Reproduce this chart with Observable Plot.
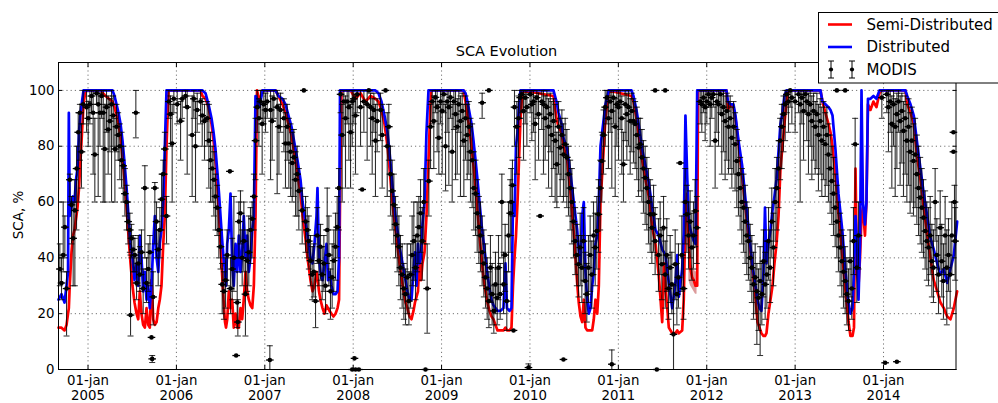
<!DOCTYPE html>
<html><head><meta charset="utf-8">
<script src="https://cdn.jsdelivr.net/npm/d3@7"></script>
<script src="https://cdn.jsdelivr.net/npm/@observablehq/plot@0.6"></script>
<style>
body{margin:0;background:#fff;font-family:"DejaVu Sans",sans-serif;}
#wrap{position:relative;width:998px;height:403px;overflow:hidden;background:#fff;}
#chart{position:absolute;left:0;top:0;}
#title{position:absolute;left:406.5px;width:200px;text-align:center;top:43px;font-size:14.5px;line-height:17px;color:#000;}
#ylab{position:absolute;left:-32px;top:206px;width:100px;text-align:center;font-size:13.5px;line-height:18px;transform:rotate(-90deg);color:#000;}
#legend{position:absolute;left:818px;top:12px;}
</style></head>
<body><div id="wrap"><div id="chart"></div><div id="title">SCA Evolution</div><div id="ylab">SCA, %</div><div id="legend"></div></div>
<script>
// ---------- data ----------
// year decimal time, Semi-Distributed, Distributed
const sim2005 = [[2004.666,15,25],[2004.700,15,27],[2004.734,14,24],[2004.757,16,30],[2004.774,20,35],[2004.783,22,92],[2004.793,30,55],[2004.813,42,58],[2004.830,48,62],[2004.847,50,60],[2004.864,54,68],[2004.881,58,72],[2004.898,65,85],[2004.915,75,92],[2004.932,85,96],[2004.949,95,100],[2004.972,100,100],[2005.141,100,100],[2005.198,98,100],[2005.277,96,100],[2005.300,94,98],[2005.322,91,95],[2005.345,88,92],[2005.368,83,88],[2005.390,76,82],[2005.413,68,74],[2005.436,58,65],[2005.458,48,55],[2005.481,38,45],[2005.503,30,40],[2005.526,24,32],[2005.549,20,38],[2005.568,18,30],[2005.586,28,48],[2005.605,20,40],[2005.624,16,28],[2005.643,15,35],[2005.662,22,25],[2005.681,16,30],[2005.699,15,22],[2005.718,32,30],[2005.738,18,45],[2005.756,16,55],[2005.776,17,40],[2005.795,22,35],[2005.812,25,45],[2005.831,30,50],[2005.851,45,60],[2005.869,55,80],[2005.888,80,100]];
const sim2006 = [[2005.911,100,100],[2006.273,100,100],[2006.295,98,100],[2006.329,97,99],[2006.363,94,95],[2006.397,88,90],[2006.420,82,85],[2006.442,75,79],[2006.465,65,70],[2006.482,55,63],[2006.499,45,55],[2006.516,35,47],[2006.533,25,40],[2006.550,17,35],[2006.561,15,30],[2006.575,18,45],[2006.593,28,50],[2006.612,22,63],[2006.631,25,38],[2006.649,15,30],[2006.669,20,45],[2006.688,15,35],[2006.706,15,48],[2006.725,22,35],[2006.744,18,42],[2006.762,25,55],[2006.782,35,40],[2006.801,28,48],[2006.819,25,35],[2006.838,23,40],[2006.858,22,50],[2006.876,30,55],[2006.895,55,98]];
const sim2007 = [[2006.912,100,97],[2006.940,96,94],[2006.974,100,100],[2007.121,100,100],[2007.155,98,98],[2007.200,95,97],[2007.234,92,95],[2007.268,88,91],[2007.302,84,87],[2007.336,77,81],[2007.370,70,75],[2007.404,63,68],[2007.427,55,60],[2007.460,47,53],[2007.483,40,48],[2007.517,32,40],[2007.540,28,38],[2007.562,30,45],[2007.585,35,55],[2007.596,33,65],[2007.613,28,40],[2007.630,25,35],[2007.653,22,32],[2007.675,20,38],[2007.698,23,45],[2007.715,22,32],[2007.732,21,35],[2007.755,20,30],[2007.777,19,27],[2007.800,20,27],[2007.823,22,28],[2007.840,25,40],[2007.851,60,100]];
const sim2008 = [[2007.868,100,100],[2007.970,100,100],[2008.026,97,100],[2008.083,99,100],[2008.139,96,100],[2008.196,98,100],[2008.252,97,100],[2008.286,96,99],[2008.320,93,96],[2008.354,88,91],[2008.388,80,85],[2008.411,72,78],[2008.433,64,70],[2008.456,56,62],[2008.479,50,55],[2008.501,44,50],[2008.524,38,44],[2008.547,33,40],[2008.569,28,36],[2008.592,24,32],[2008.614,22,28],[2008.637,19,25],[2008.660,18,25],[2008.682,21,35],[2008.699,24,42],[2008.716,26,30],[2008.733,28,45],[2008.750,40,38],[2008.767,32,40],[2008.784,38,52],[2008.807,42,60],[2008.829,55,85],[2008.852,75,100]];
const sim2009 = [[2008.880,100,100],[2009.248,100,100],[2009.271,96,99],[2009.293,91,96],[2009.316,86,92],[2009.339,80,88],[2009.361,73,82],[2009.384,65,75],[2009.406,57,68],[2009.429,48,60],[2009.452,40,52],[2009.474,33,46],[2009.497,28,40],[2009.519,24,34],[2009.542,21,29],[2009.565,19,25],[2009.587,18,23],[2009.610,16,22],[2009.633,14,21],[2009.667,14,21],[2009.700,14,22],[2009.723,15,38],[2009.740,14,22],[2009.768,14,21],[2009.791,15,22],[2009.808,30,60],[2009.825,40,55],[2009.842,48,80],[2009.859,60,85],[2009.876,75,95],[2009.893,90,100]];
const sim2010 = [[2009.915,100,100],[2010.266,98,100],[2010.300,90,96],[2010.323,87,92],[2010.357,85,88],[2010.379,80,83],[2010.421,75,79],[2010.459,63,70],[2010.496,49,60],[2010.534,31,50],[2010.552,24,43],[2010.572,19,38],[2010.591,17,55],[2010.609,25,60],[2010.628,15,35],[2010.647,14,25],[2010.666,14,20],[2010.685,14,22],[2010.704,14,30],[2010.722,18,35],[2010.741,25,45],[2010.761,20,48],[2010.779,30,60],[2010.798,60,80],[2010.817,70,85],[2010.854,90,95]];
const sim2011 = [[2010.892,100,100],[2011.149,98,100],[2011.171,96,98],[2011.205,90,93],[2011.239,82,86],[2011.270,75,79],[2011.307,68,73],[2011.344,62,67],[2011.383,51,58],[2011.420,45,50],[2011.457,34,48],[2011.496,17,43],[2011.516,38,42],[2011.533,30,41],[2011.571,15,31],[2011.609,13,22],[2011.646,13,31],[2011.666,14,41],[2011.684,13,26],[2011.722,14,36],[2011.740,25,49],[2011.759,55,91],[2011.779,63,69],[2011.797,45,53],[2011.816,36,50],[2011.835,33,48],[2011.853,32,46],[2011.873,30,45],[2011.892,30,100]];
const sim2012 = [[2011.901,100,100],[2011.997,100,100],[2012.223,100,100],[2012.240,93,96],[2012.269,95,95],[2012.302,94,95],[2012.325,90,91],[2012.359,81,82],[2012.401,69,73],[2012.438,58,61],[2012.476,47,50],[2012.514,37,38],[2012.551,26,30],[2012.574,17,25],[2012.597,15,22],[2012.619,13,21],[2012.642,12,35],[2012.659,12,58],[2012.676,13,38],[2012.698,20,45],[2012.721,25,50],[2012.744,30,57],[2012.766,38,62],[2012.789,45,68],[2012.812,55,78],[2012.834,72,88],[2012.857,80,92],[2012.879,88,98],[2012.902,96,100]];
const sim2013 = [[2012.925,100,100],[2013.287,100,100],[2013.309,96,96],[2013.343,92,95],[2013.377,88,94],[2013.400,85,93],[2013.423,80,91],[2013.456,70,79],[2013.490,56,63],[2013.536,40,49],[2013.570,28,35],[2013.604,17,24],[2013.626,12,20],[2013.649,12,22],[2013.666,15,35],[2013.683,72,55],[2013.700,35,45],[2013.717,30,25],[2013.734,40,45],[2013.751,55,100],[2013.767,58,60],[2013.790,48,52],[2013.807,60,60],[2013.824,95,97],[2013.852,93,97],[2013.886,96,98],[2013.920,94,97],[2013.954,99,100]];
const sim2014 = [[2013.977,100,100],[2014.248,100,100],[2014.268,95,98],[2014.305,92,95],[2014.342,88,91],[2014.381,76,81],[2014.418,68,72],[2014.455,58,63],[2014.494,48,55],[2014.531,40,47],[2014.568,32,43],[2014.607,28,38],[2014.644,24,34],[2014.682,22,36],[2014.720,19,31],[2014.757,18,36],[2014.795,22,41],[2014.833,28,53]];

// shaded spread around Semi-Distributed, autumn 2011: time, low, high
const band2011 = [[2011.797,32,40],[2011.816,30,38],[2011.835,29,37],[2011.853,28,36],[2011.873,27,35],[2011.890,27,35]];

// MODIS: time, value, error low, error high (no error given => point only)
const modis2005 = [[2004.681,36,30,45],[2004.700,31,25,40],[2004.719,41,35,60],[2004.738,51,40,55],[2004.757,29,12,35],[2004.794,68,60,70],[2004.813,59,45,62],[2004.832,47,30,60],[2004.851,57,30,68],[2004.870,72,50,80],[2004.889,85,60,92],[2004.908,92,75,95],[2004.926,78,65,88],[2004.945,95,88,100],[2004.983,94,85,100],[2005.002,90,80,96],[2005.021,95,88,100],[2005.040,98,92,100],[2005.058,92,70,100],[2005.077,77,60,90],[2005.096,99,95,100],[2005.115,95,62,100],[2005.134,92,80,99],[2005.153,98,90,100],[2005.172,92,60,100],[2005.190,79,60,95],[2005.209,94,85,100],[2005.228,86,70,98],[2005.247,89,78,97],[2005.266,95,60,100],[2005.285,91,80,98],[2005.304,79,60,90],[2005.322,87,78,95],[2005.341,84,75,92],[2005.360,80,68,88],[2005.379,75,65,85],[2005.398,73,60,80],[2005.417,63,55,72],[2005.436,60,50,66],[2005.454,53,45,60],[2005.473,50,42,56],[2005.481,19.5,12,41],[2005.492,47,40,52],[2005.511,43,35,48],[2005.530,41,35,47],[2005.541,92,83,100],[2005.549,31,25,40],[2005.568,38,30,48],[2005.586,34,28,44],[2005.605,42,34,50],[2005.624,29,20,36],[2005.643,65,40,73],[2005.662,31,24,40],[2005.681,36,28,45],[2005.700,42,30,48],[2005.718,11.5],[2005.726,3.8,2.5,5],[2005.737,26,16,35],[2005.756,65,45,67],[2005.775,53,40,60],[2005.794,43,30,50],[2005.813,50,40,58],[2005.832,61,50,70],[2005.850,70,55,75],[2005.869,79,70,85],[2005.888,55,45,62]];
const modis2006 = [[2005.915,96,90,100],[2005.933,91.5,80,98],[2005.952,81,60,95],[2005.971,97,92,100],[2006.009,95,88,100],[2006.047,89,75,96],[2006.065,97,90,100],[2006.103,98,94,100],[2006.122,94,70,100],[2006.178,84,62,98],[2006.197,97,90,100],[2006.216,80,60,96],[2006.235,93,85,99],[2006.273,96,88,100],[2006.292,91,80,97],[2006.318,89,75,95],[2006.348,90,80,96],[2006.367,82,65,95],[2006.386,75,60,85],[2006.405,72,60,80],[2006.424,68,55,78],[2006.442,62,50,70],[2006.461,58,48,66],[2006.480,50,40,58],[2006.499,44,36,50],[2006.518,30.5,20,38],[2006.537,28,18,35],[2006.556,32,22,40],[2006.574,41,30,50],[2006.605,71],[2006.612,29,20,40],[2006.631,36,25,47],[2006.650,40,28,62],[2006.676,5],[2006.688,24,15,35],[2006.695,17,12,25],[2006.707,53,40,60],[2006.725,56,45,64],[2006.744,40,30,50],[2006.763,46,35,60],[2006.781,27,12,40],[2006.801,39,28,50],[2006.819,42,30,55],[2006.838,50,38,58],[2006.857,54,40,60],[2006.876,62,50,70]];
const modis2007 = [[2006.895,82,68,90],[2006.914,94,85,100],[2006.933,90,80,97],[2006.951,96,90,100],[2006.970,88,70,96],[2006.989,95,88,100],[2007.008,93,85,99],[2007.027,96,90,100],[2007.057,3.4,0,8.5],[2007.065,93,68,100],[2007.083,89,75,98],[2007.102,97,90,100],[2007.140,94,63,100],[2007.160,87,70,95],[2007.178,93,85,99],[2007.216,90,78,97],[2007.234,81,65,92],[2007.253,87,75,95],[2007.272,81,65,90],[2007.291,78,62,88],[2007.310,74,60,85],[2007.329,76,62,86],[2007.348,68,55,78],[2007.366,70,55,80],[2007.385,64,50,72],[2007.423,57,45,65],[2007.442,100],[2007.461,53,42,62],[2007.480,50,40,58],[2007.498,46,36,55],[2007.517,39,30,48],[2007.536,34,25,44],[2007.555,35,26,45],[2007.574,24.5,15,35],[2007.593,48,38,58],[2007.612,39,30,48],[2007.630,44,32,52],[2007.649,34,25,44],[2007.668,38,28,48],[2007.687,30,20,38],[2007.706,50,38,65],[2007.725,41,30,55],[2007.743,28,18,36],[2007.762,33,22,45],[2007.781,39,28,50],[2007.800,44,32,56],[2007.819,51,40,62],[2007.838,65,50,72]];
const modis2008 = [[2007.857,98.6,92,100],[2007.875,84,60,95],[2007.894,96,80,100],[2007.913,90,65,98],[2007.932,96,88,100],[2007.951,94,75,100],[2007.970,85,65,95],[2007.989,0],[2007.989,96,80,100],[2008.007,97,88,100],[2008.015,4],[2008.026,0],[2008.026,91,70,98],[2008.045,98.6,92,100],[2008.064,0],[2008.083,94,80,100],[2008.102,64.5],[2008.121,96,85,100],[2008.158,95,75,100],[2008.177,100],[2008.196,94,80,99],[2008.215,90,70,97],[2008.234,93,85,99],[2008.252,82,62,95],[2008.271,89,78,97],[2008.309,93,82,99],[2008.328,84,65,95],[2008.366,100],[2008.385,80,62,92],[2008.403,87,75,95],[2008.422,70,55,80],[2008.441,64,50,75],[2008.460,59,45,70],[2008.479,52,40,62],[2008.498,48,35,58],[2008.517,44,30,55],[2008.535,36.5,25,48],[2008.554,34,22,45],[2008.573,29,18,38],[2008.592,27,16,36],[2008.611,33,20,45],[2008.630,24.5,16,35],[2008.649,34,22,45],[2008.667,41,30,55],[2008.686,46,32,60],[2008.705,36.5,25,48],[2008.724,48,35,60],[2008.743,51,38,62],[2008.762,56,42,68],[2008.781,46,32,58],[2008.799,60,45,72],[2008.818,0],[2008.837,29,13,45],[2008.856,67.5,55,75]];
const modis2009 = [[2008.875,87,72,95],[2008.894,96,88,100],[2008.912,89,72,98],[2008.931,97.5,92,100],[2008.950,94,78,100],[2008.969,83,70,95],[2008.988,96,88,100],[2009.007,92.6,70,100],[2009.026,98.6,92,100],[2009.045,80,64,95],[2009.063,96,85,100],[2009.082,94,66,100],[2009.101,97.5,90,100],[2009.120,78,60,95],[2009.139,96,86,100],[2009.158,91.5,68,100],[2009.177,87,70,97],[2009.195,95,85,100],[2009.214,89,62,98],[2009.233,92.6,80,99],[2009.252,82,62,95],[2009.271,90,75,98],[2009.290,84,68,95],[2009.308,87,70,96],[2009.327,78,60,90],[2009.346,75,58,88],[2009.365,65,50,78],[2009.384,63,48,75],[2009.403,56,42,68],[2009.422,51,38,62],[2009.440,48,35,60],[2009.459,95.6,90,99],[2009.459,42,30,55],[2009.478,38,26,50],[2009.497,33,22,45],[2009.516,29,18,40],[2009.535,100],[2009.535,24.5,15,35],[2009.553,36.5,24,48],[2009.572,27,16,38],[2009.591,21,13,30],[2009.610,30.5,20,42],[2009.629,25.7,16,36],[2009.644,36.5,25,48],[2009.663,27,18,38],[2009.682,60,40,70],[2009.701,30.5,20,42],[2009.719,41,28,52],[2009.738,24.5,14,35],[2009.757,48,35,60],[2009.776,56,42,68],[2009.787,60,48,72],[2009.802,66,55,75],[2009.814,14]];
const modis2010 = [[2009.825,94,80,100],[2009.851,87,70,96],[2009.870,90,76,98],[2009.889,97.4,90,100],[2009.908,98.6,92,100],[2009.927,92.6,75,100],[2009.946,97.4,88,100],[2009.965,94,80,100],[2009.983,0.7,0,2],[2010.002,98.6,92,100],[2010.021,95,82,100],[2010.040,96,85,100],[2010.059,88,68,98],[2010.078,97.4,90,100],[2010.097,91.5,75,99],[2010.115,55],[2010.134,96,86,100],[2010.153,95,70,100],[2010.172,90,75,98],[2010.191,94,80,100],[2010.210,87,65,97],[2010.229,91.5,78,99],[2010.247,84,62,96],[2010.266,89,72,97],[2010.285,82,60,95],[2010.304,73.5,58,85],[2010.323,87,70,96],[2010.342,79.5,62,90],[2010.361,84,68,93],[2010.379,3.6],[2010.379,77,60,88],[2010.398,80.7,62,90],[2010.417,76,58,86],[2010.436,70,55,80],[2010.455,65,50,75],[2010.474,60,45,72],[2010.492,53,40,65],[2010.511,46,34,58],[2010.530,41,30,52],[2010.549,37.7,26,48],[2010.568,43.7,30,56],[2010.587,36.5,24,48],[2010.606,46,32,58],[2010.624,31.7,20,42],[2010.643,27,17,38],[2010.662,36.5,24,48],[2010.681,41,28,55],[2010.700,34,22,46],[2010.719,48,34,60],[2010.738,43.7,30,56],[2010.756,49.6,36,62],[2010.775,55.6,42,68],[2010.794,65,50,75],[2010.813,74.7,60,85],[2010.832,84,70,93]];
const modis2011 = [[2010.851,94,80,100],[2010.870,97.4,88,100],[2010.888,90,72,98],[2010.907,96,85,100],[2010.926,1.9,0,7],[2010.926,92.6,65,100],[2010.945,97.4,88,100],[2010.964,87,62,97],[2010.983,95,80,100],[2011.002,94,75,100],[2011.020,96,86,100],[2011.039,90,70,98],[2011.058,73.5,60,85],[2011.077,95,82,100],[2011.096,91.5,75,99],[2011.115,94,80,100],[2011.134,89,70,97],[2011.152,92.6,78,99],[2011.171,89,74,97],[2011.190,88,72,96],[2011.209,84,68,94],[2011.228,79.5,62,90],[2011.247,80.7,64,90],[2011.266,76,60,86],[2011.284,72,56,82],[2011.303,68.7,52,80],[2011.322,65,50,76],[2011.341,60,45,72],[2011.360,55.6,42,68],[2011.379,50.8,38,62],[2011.398,55.6,42,66],[2011.416,100],[2011.416,46,34,58],[2011.435,0],[2011.454,41,28,54],[2011.473,48,34,60],[2011.492,37.7,25,50],[2011.511,50.8,38,62],[2011.530,100],[2011.530,34,22,46],[2011.548,41,28,54],[2011.567,29,18,40],[2011.586,36.5,24,48],[2011.605,30.5,20,42],[2011.624,12.6,0,30],[2011.643,37.7,25,50],[2011.662,27,16,38],[2011.680,33,22,45],[2011.699,74],[2011.718,41,28,55],[2011.737,29,18,40],[2011.756,60,45,72],[2011.775,55.6,42,66],[2011.794,48,36,60],[2011.812,53,40,64],[2011.831,43.7,32,56],[2011.850,48,36,60],[2011.869,56.8,44,68],[2011.888,50.8,38,62]];
const modis2012 = [[2011.926,96,88,100],[2011.944,95,85,100],[2011.963,97.4,92,100],[2011.982,94,82,100],[2012.001,96,88,100],[2012.020,98.6,94,100],[2012.039,95,80,100],[2012.057,97.4,90,100],[2012.076,98.6,94,100],[2012.095,82,65,95],[2012.114,96,85,100],[2012.133,95,80,100],[2012.152,98.6,92,100],[2012.170,91.5,70,99],[2012.189,94,78,100],[2012.208,89,68,98],[2012.227,92.6,75,99],[2012.246,87,70,96],[2012.265,90,72,98],[2012.284,83,65,94],[2012.303,87,70,96],[2012.321,80.7,64,92],[2012.340,74.7,58,86],[2012.359,70,55,82],[2012.378,65,50,76],[2012.397,60,45,72],[2012.416,58,42,70],[2012.434,53,38,66],[2012.453,48,34,60],[2012.472,46,32,58],[2012.491,40,28,52],[2012.510,36.5,24,48],[2012.529,30.5,18,42],[2012.548,33,20,45],[2012.567,28,9,38],[2012.585,25.7,14,36],[2012.604,31.7,5,44],[2012.623,27,16,38],[2012.642,38.8,26,50],[2012.661,30.5,18,42],[2012.680,34,22,46],[2012.699,46,32,58],[2012.717,36.5,24,50],[2012.736,53,40,65],[2012.755,43.7,30,56],[2012.774,60,46,72],[2012.793,65,50,76],[2012.812,72,58,82],[2012.830,82,68,90],[2012.849,87,72,95],[2012.868,91.5,78,98]];
const modis2013 = [[2012.887,95,82,100],[2012.906,98.6,92,100],[2012.925,96,85,100],[2012.944,100,94,100],[2012.963,97.4,88,100],[2013.000,96,85,100],[2013.038,98.6,92,100],[2013.057,95,60,100],[2013.076,97.4,88,100],[2013.095,92.6,75,100],[2013.114,98.6,92,100],[2013.132,96,82,100],[2013.151,91.5,70,99],[2013.170,95,80,100],[2013.189,89,68,98],[2013.208,92.6,75,99],[2013.227,87,70,96],[2013.246,91.5,72,99],[2013.264,84,64,95],[2013.283,89,70,97],[2013.302,82,62,94],[2013.321,87,68,96],[2013.340,80.7,62,92],[2013.359,84,66,94],[2013.377,77,60,88],[2013.396,72,56,84],[2013.415,67.5,52,80],[2013.434,63,48,76],[2013.453,58,44,70],[2013.472,100],[2013.472,53,40,66],[2013.490,48,35,60],[2013.509,43.7,30,56],[2013.528,38.8,26,50],[2013.547,35,22,48],[2013.566,100],[2013.566,31.7,20,44],[2013.585,27,16,40],[2013.604,24.5,14,36],[2013.622,38.8,26,50],[2013.641,29,18,40],[2013.660,46,34,58],[2013.679,80.7,60,90],[2013.698,36.5,24,48],[2013.717,48,36,60]];
const modis2014 = [[2013.981,97.4,90,100],[2014.018,2.4],[2014.037,98.6,92,100],[2014.056,94,78,100],[2014.075,96,85,100],[2014.094,88,65,98],[2014.113,95,80,100],[2014.132,87,62,97],[2014.151,2.8],[2014.151,91.5,72,99],[2014.169,96,85,100],[2014.188,89,66,98],[2014.207,92.6,74,99],[2014.226,85.5,62,96],[2014.245,90,70,98],[2014.264,82,60,95],[2014.283,87,66,97],[2014.301,78,56,92],[2014.320,82,60,94],[2014.339,74.7,55,88],[2014.358,77,58,90],[2014.377,70,52,84],[2014.396,65,48,80],[2014.415,61.6,45,76],[2014.433,58,42,72],[2014.452,54.4,40,68],[2014.471,49.6,36,64],[2014.490,46,32,60],[2014.509,43.7,30,58],[2014.528,48,34,62],[2014.547,38.8,26,52],[2014.565,36.5,24,50],[2014.584,60,46,72],[2014.603,41,28,54],[2014.622,34,20,48],[2014.641,50.8,36,64],[2014.659,38.8,26,52],[2014.678,31.7,18,45],[2014.697,48,34,62],[2014.716,36.5,16,50],[2014.735,41,28,54],[2014.754,34,22,48],[2014.773,48,34,60],[2014.791,85],[2014.791,78],[2014.803,60,46,66],[2014.810,46,32,58]];

const yearTicks = [2005, 2006, 2007, 2008, 2009, 2010, 2011, 2012, 2013, 2014];
const yTicks = [0, 20, 40, 60, 80, 100];
const xDomain = [2004.666, 2014.82];
const yDomain = [0, 110];
const seriesNames = ["Semi-Distributed", "Distributed", "MODIS"];
const seriesColors = ["#ff0000", "#0000ff", "#000000"];

// ---------- build tables ----------
const sims = [sim2005, sim2006, sim2007, sim2008, sim2009, sim2010, sim2011, sim2012, sim2013, sim2014].flat()
  .map(([t, semi, dist]) => ({t, semi, dist}));
const band = band2011.map(([t, lo, hi]) => ({t, lo, hi}));
const modis = [modis2005, modis2006, modis2007, modis2008, modis2009, modis2010, modis2011, modis2012, modis2013, modis2014].flat()
  .map(([t, v, lo, hi]) => ({t, v, lo, hi}));
const bars = modis.filter(d => d.lo !== undefined && d.hi > d.lo);

const hbar = {draw(ctx, size) { const w = Math.sqrt(size / Math.PI); ctx.moveTo(-w, 0); ctx.lineTo(w, 0); }};
const font = "DejaVu Sans";

const chart = Plot.plot({
  width: 998, height: 403,
  marginLeft: 58, marginRight: 42.5, marginTop: 62, marginBottom: 34,
  x: {domain: xDomain},
  y: {domain: yDomain},
  style: {fontFamily: font, fontSize: "13.3px", color: "#000", background: "transparent"},
  marks: [
    Plot.gridX(yearTicks, {stroke: "#000", strokeOpacity: 0.55, strokeDasharray: "1.2,3"}),
    Plot.gridY(yTicks.filter(d => d > 0), {stroke: "#000", strokeOpacity: 0.55, strokeDasharray: "1.2,3"}),
    Plot.areaY(band, {x: "t", y1: "lo", y2: "hi", fill: "#c04848", fillOpacity: 0.55, curve: "linear"}),
    Plot.line(sims, {x: "t", y: "semi", stroke: seriesColors[0], strokeWidth: 2.7}),
    Plot.line(sims, {x: "t", y: "dist", stroke: seriesColors[1], strokeWidth: 2.7}),
    Plot.ruleX(bars, {x: "t", y1: "lo", y2: "hi", stroke: "#000", strokeOpacity: 0.82, strokeWidth: 1.1}),
    Plot.dot(bars, {x: "t", y: "lo", symbol: hbar, r: 3, fill: "none", stroke: "#000", strokeOpacity: 0.82, strokeWidth: 1}),
    Plot.dot(bars, {x: "t", y: "hi", symbol: hbar, r: 3, fill: "none", stroke: "#000", strokeOpacity: 0.82, strokeWidth: 1}),
    Plot.dot(modis, {x: "t", y: "v", symbol: hbar, r: 3.8, fill: "none", stroke: "#000", strokeWidth: 1.3}),
    Plot.dot(modis, {x: "t", y: "v", r: 2.3, fill: "#000", stroke: "none"}),
    Plot.frame({stroke: "#000", strokeWidth: 1}),
    Plot.axisY(yTicks, {anchor: "left", tickSize: 0, tickPadding: 4, label: null, fontSize: 13.3}),
    Plot.axisY(yTicks, {anchor: "left", tickSize: 4, dx: 4, tickFormat: () => "", label: null}),
    Plot.axisY(yTicks, {anchor: "right", tickSize: 4, dx: -4, tickFormat: () => "", label: null}),
    Plot.axisX(yearTicks, {anchor: "bottom", tickSize: 0, tickPadding: 5, label: null, lineHeight: 1.13, fontSize: 13.3, tickFormat: d => `01-jan\n${d}`}),
    Plot.axisX(yearTicks, {anchor: "bottom", tickSize: 4, dy: -4, tickFormat: () => "", label: null}),
    Plot.axisX(yearTicks, {anchor: "top", tickSize: 4, dy: 4, tickFormat: () => "", label: null})
  ]
});
document.getElementById("chart").appendChild(chart);

// ---------- legend ----------
const lg = d3.select("#legend").append("svg").attr("width", 200).attr("height", 72)
  .style("font-family", font);
lg.append("rect").attr("x", 0.5).attr("y", 0.5).attr("width", 260).attr("height", 70.5)
  .attr("fill", "#fff").attr("stroke", "#000");
const rowsY = [12.5, 35, 57.5];
seriesNames.forEach((name, i) => {
  const y = rowsY[i];
  if (i < 2) {
    lg.append("line").attr("x1", 10).attr("x2", 34).attr("y1", y).attr("y2", y)
      .attr("stroke", seriesColors[i]).attr("stroke-width", 2.6);
  } else {
    [13, 34].forEach(x => {
      lg.append("line").attr("x1", x).attr("x2", x).attr("y1", y - 8.5).attr("y2", y + 8.5).attr("stroke", "#000");
      lg.append("line").attr("x1", x - 3).attr("x2", x + 3).attr("y1", y - 8.5).attr("y2", y - 8.5).attr("stroke", "#000");
      lg.append("line").attr("x1", x - 3).attr("x2", x + 3).attr("y1", y + 8.5).attr("y2", y + 8.5).attr("stroke", "#000");
      lg.append("circle").attr("cx", x).attr("cy", y).attr("r", 2.1).attr("fill", "#000");
    });
  }
  lg.append("text").attr("x", 48.5).attr("y", y).attr("dy", "0.36em")
    .attr("font-size", 15).attr("fill", "#000").text(name);
});
</script>
</body></html>
